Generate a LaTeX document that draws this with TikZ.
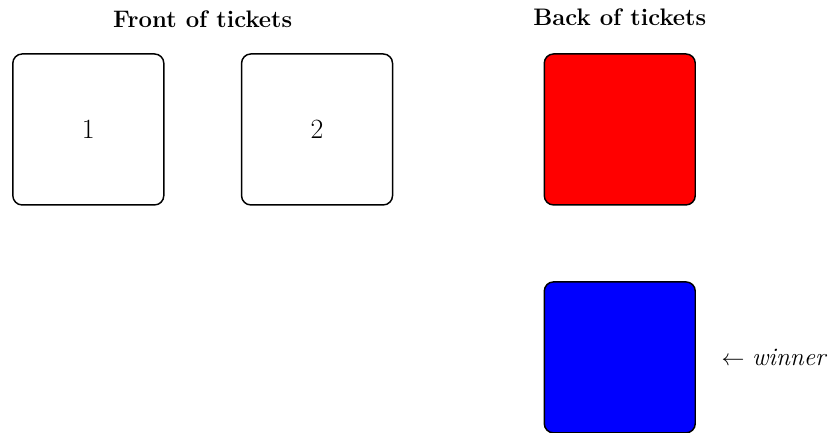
\documentclass[tikz,border=0pt]{standalone}
\usepackage{amsmath,amssymb}
\usepackage{xcolor}
\usepackage{tikz}
\usetikzlibrary{positioning,calc}

\begin{document}
\begin{tikzpicture}[
  font=\fontsize{18}{22}\selectfont,
  ticket/.style={draw, line width=1.1pt, rounded corners=7pt,
                 minimum width=4cm, minimum height=4cm,
                 font=\fontsize{21}{25}\selectfont},
  hdr/.style={font=\fontsize{18}{22}\selectfont\bfseries},
]
\useasboundingbox (0,0) rectangle (21.99,-11.47);

% front of tickets
\node[ticket] (f1) at (2.34,-3.43) {1};
\node[ticket] (f2) at (8.40,-3.43) {2};
\node[hdr] (fh) at ($(f1)!0.5!(f2)+(0,2.92)$) {Front of tickets};

% back of tickets
\node[ticket, fill=red] (b1) at (16.42,-3.43) {};
\node[ticket, fill=blue, below=2cm of b1] (b2) {};
\node[hdr, above=0.62cm of b1] (bh) {Back of tickets};
\node[right=0.6cm of b2, inner sep=2pt, font=\fontsize{19}{23}\selectfont]
  (win) {$\leftarrow$ \textit{winner}};
\end{tikzpicture}
\end{document}
